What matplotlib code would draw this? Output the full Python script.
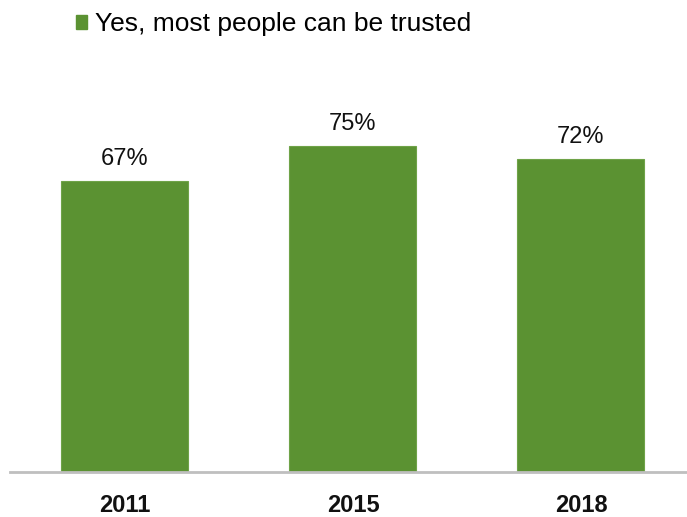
import matplotlib.pyplot as plt
from matplotlib.patches import Patch

years = ["2011", "2015", "2018"]
trusted = [67, 75, 72]
series_name = "Yes, most people can be trusted"

bar_color = "#5B9232"

plt.rcParams['font.family'] = ['Liberation Sans', 'DejaVu Sans']

fig = plt.figure(figsize=(6.87, 5.17), dpi=100)
ax = fig.add_axes([10 / 687, 45 / 517, 677 / 687, 412 / 517])

x = range(len(years))
bars = ax.bar(x, trusted, width=0.557, color=bar_color,
              edgecolor="#6FA348", linewidth=0.8)

# value labels above bars
for xi, v in zip(x, trusted):
    ax.annotate(f"{v}%", (xi, v), xytext=(0, 8), textcoords="offset points",
                ha="center", va="bottom", fontsize=17, color="#111111")

ax.set_xlim(-0.504, 2.465)
ax.set_ylim(0, 94.9)
ax.set_xticks(list(x))
ax.set_xticklabels(years, fontsize=17, fontweight="bold", color="#111111")
ax.tick_params(axis="x", length=0, pad=16)
ax.set_yticks([])

for s in ["top", "right", "left"]:
    ax.spines[s].set_visible(False)
ax.spines["bottom"].set_color("#BFBFBF")
ax.spines["bottom"].set_linewidth(2)

handle = Patch(facecolor=bar_color, edgecolor=bar_color)
fig.legend([handle], [series_name], loc="center left",
           bbox_to_anchor=(65 / 687, 1 - 24 / 517), frameon=False,
           fontsize=19, handlelength=0.45, handleheight=0.45,
           handletextpad=0.3, borderaxespad=0)

fig.savefig("out.png", dpi=100)
